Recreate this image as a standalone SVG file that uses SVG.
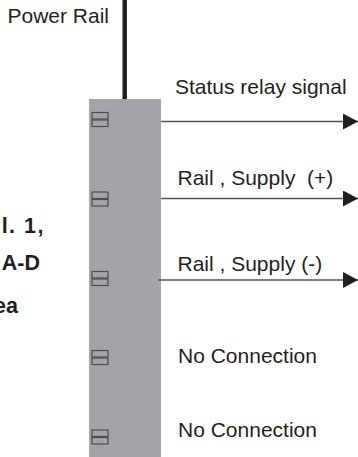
<svg xmlns="http://www.w3.org/2000/svg" width="358" height="457" viewBox="0 0 358 457">
<style>
text{font-family:"Liberation Sans",Arial,sans-serif;fill:#231f20}
.lbl{font-size:21px}
.bold{font-size:21.5px;font-weight:bold}
.pin{fill:#a3a4a7;stroke:#4d4d4f;stroke-width:1.2}
.wire{stroke:#555;stroke-width:1.4;fill:none}
</style>
<defs>
<marker id="arr" markerUnits="userSpaceOnUse" markerWidth="16" markerHeight="18" refX="15" refY="8" orient="auto">
<polygon points="0,0 15,8 0,16" fill="#231f20"/>
</marker>
<g id="pinShape">
<rect class="pin" x="0" y="0.5" width="16" height="6.5"/>
<rect class="pin" x="0" y="8" width="16" height="6.5"/>
</g>
</defs>
<rect width="358" height="457" fill="#fff"/>
<g id="left-text">
<text class="bold" x="45" y="232.5" text-anchor="end" letter-spacing="1.5">l. 1,</text>
<text class="bold" x="40" y="270" text-anchor="end">A-D</text>
<text class="bold" x="18" y="313" text-anchor="end">ea</text>
</g>
<g id="power-rail">
<line x1="124.7" y1="0" x2="124.7" y2="100" stroke="#231f20" stroke-width="4.5"/>
<text class="lbl" x="7.5" y="23">Power Rail</text>
</g>
<g id="terminal-block">
<rect x="89" y="99" width="72" height="358" fill="#a3a4a7"/>
<use href="#pinShape" x="92" y="112"/>
<use href="#pinShape" x="92" y="191.5"/>
<use href="#pinShape" x="92" y="271"/>
<use href="#pinShape" x="92" y="350"/>
<use href="#pinShape" x="92" y="429.5"/>
</g>
<g id="connectors">
<line class="wire" x1="161" y1="121.5" x2="358" y2="121.5" marker-end="url(#arr)"/>
<line class="wire" x1="161" y1="198.5" x2="358" y2="198.5" marker-end="url(#arr)"/>
<line class="wire" x1="158" y1="280" x2="358" y2="280" marker-end="url(#arr)"/>
</g>
<g id="labels">
<text class="lbl" x="175" y="94">Status relay signal</text>
<text class="lbl" x="177.5" y="185" xml:space="preserve">Rail , Supply  (+)</text>
<text class="lbl" x="177.5" y="271">Rail , Supply (-)</text>
<text class="lbl" x="178" y="363">No Connection</text>
<text class="lbl" x="178" y="437">No Connection</text>
</g>
</svg>
